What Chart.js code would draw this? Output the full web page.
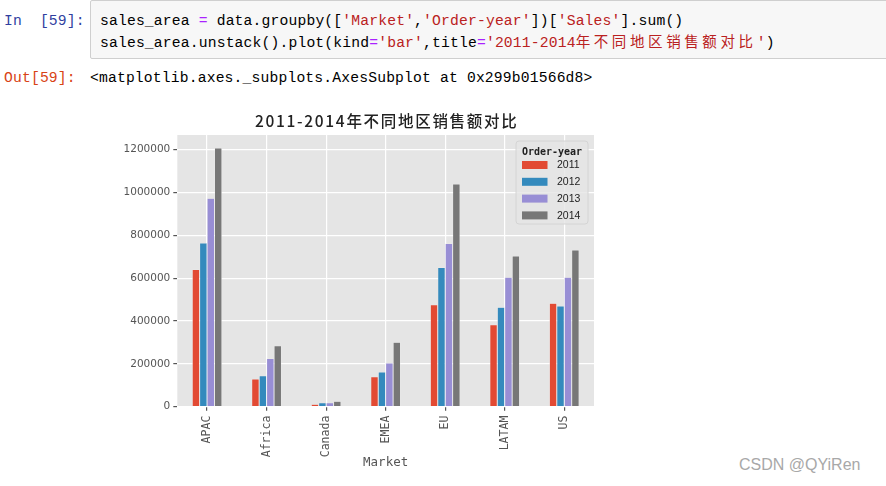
<!DOCTYPE html>
<html>
<head>
<meta charset="utf-8">
<script src="https://cdn.jsdelivr.net/npm/chart.js@4"></script>
<style>
    body { margin: 0; background: #fff; width: 886px; height: 486px; position: relative; overflow: hidden; }
    .mono { font-family: "Liberation Mono", monospace; font-size: 14.7px; letter-spacing: 0.16px; white-space: pre; position: absolute; line-height: 20px; }
    .cjk { font-family: "Noto Sans CJK SC", sans-serif; letter-spacing: 3.6px; font-size: 14.5px; }
    .s { color: #BA2121; }
    .o { color: #AA22FF; }
    #codebox { position: absolute; left: 90px; top: 0px; width: 800px; height: 57px; background: #F7F7F7; border: 1px solid #CFCFCF; border-radius: 2px; }
    #chart { position: absolute; left: 100px; top: 102px; }
    #mark { position: absolute; left: 739px; top: 456px; font-family: "Liberation Sans", sans-serif; font-size: 16px; color: #a8a8a8; }
</style>
</head>
<body>
<div class="mono" style="left:4px; top:11px; color:#303F9F;">In  [59]:</div>
<div id="codebox"></div>
<div class="mono" style="left:100px; top:11px;">sales_area <span class="o">=</span> data.groupby([<span class="s">'Market'</span>,<span class="s">'Order-year'</span>])[<span class="s">'Sales'</span>].sum()</div>
<div class="mono" style="left:100px; top:31px;">sales_area.unstack().plot(kind<span class="o">=</span><span class="s">'bar'</span>,title<span class="o">=</span><span class="s">'2011-2014<span class="cjk">年不同地区销售额对比</span>'</span>)</div>
<div class="mono" style="left:4px; top:68px; color:#D84315;">Out[59]:</div>
<div class="mono" style="left:90px; top:68px;">&lt;matplotlib.axes._subplots.AxesSubplot at 0x299b01566d8&gt;</div>
<canvas id="chart" width="572" height="378"></canvas>
<div id="mark">CSDN @QYiRen</div>
<script>
    // 市場と年ごとの売上
    const markets = ['APAC', 'Africa', 'Canada', 'EMEA', 'EU', 'LATAM', 'US'];
    const years = ['2011', '2012', '2013', '2014'];
    const sales2011 = [641000, 129000, 11000, 140000, 476000, 383000, 483000];
    const sales2012 = [764000, 144000, 19000, 162000, 650000, 464000, 470000];
    const sales2013 = [973000, 225000, 19000, 204000, 762000, 604000, 604000];
    const sales2014 = [1208000, 284000, 25000, 301000, 1040000, 703000, 731000];
    const yTicks = [0, 200000, 400000, 600000, 800000, 1000000, 1200000];
    const colors = ['#E24A33', '#348ABD', '#988ED5', '#777777'];
    const chartTitle = '2011-2014年不同地区销售额对比';

    const series = [sales2011, sales2012, sales2013, sales2014];
    const yMax = Math.max(...series.flat()) * 1.05;

    // 背景（ggplot風）
    const areaBg = {
        id: 'areaBg',
        beforeDraw(chart) {
            const { ctx, chartArea: a } = chart;
            ctx.save();
            ctx.fillStyle = '#E5E5E5';
            ctx.fillRect(a.left, a.top, a.right - a.left, a.bottom - a.top);
            ctx.restore();
        }
    };

    // タイトルはプロット領域の中央に
    const axesTitle = {
        id: 'axesTitle',
        afterDraw(chart) {
            const { ctx, chartArea: a } = chart;
            ctx.save();
            ctx.font = '500 15.5px "Noto Sans CJK SC"';
            ctx.letterSpacing = '1.7px';
            ctx.fillStyle = '#222';
            ctx.textAlign = 'center';
            ctx.textBaseline = 'middle';
            ctx.fillText(chartTitle, (a.left + a.right) / 2 + 1, 19);
            ctx.restore();
        }
    };

    // 凡例をプロット内に描く
    const innerLegend = {
        id: 'innerLegend',
        afterDraw(chart) {
            const { ctx, chartArea: a } = chart;
            const w = 72, h = 83;
            const x = a.right - 6 - w, y = a.top + 6;
            ctx.save();
            ctx.beginPath();
            ctx.roundRect(x, y, w, h, 3);
            ctx.fillStyle = 'rgba(229,229,229,0.8)';
            ctx.fill();
            ctx.strokeStyle = '#d4d4d4';
            ctx.lineWidth = 1;
            ctx.stroke();

            ctx.fillStyle = '#222';
            ctx.font = 'bold 10px "DejaVu Sans Mono"';
            ctx.textAlign = 'center';
            ctx.textBaseline = 'middle';
            ctx.fillText('Order-year', x + w / 2, y + 11);

            ctx.font = '10.5px "Liberation Sans"';
            ctx.textAlign = 'left';
            chart.data.datasets.forEach((ds, i) => {
                const cy = y + 24 + i * 16.8;
                ctx.fillStyle = ds.backgroundColor;
                ctx.fillRect(x + 6, cy - 4, 25.5, 8);
                ctx.fillStyle = '#222';
                ctx.fillText(ds.label, x + 41, cy + 0.5);
            });
            ctx.restore();
        }
    };

    new Chart(document.getElementById('chart'), {
        type: 'bar',
        data: {
            labels: markets,
            datasets: years.map((yr, i) => ({
                label: yr,
                data: series[i],
                backgroundColor: colors[i],
                borderColor: '#EEEEEE',
                borderWidth: 0.5,
                categoryPercentage: 0.5,
                barPercentage: 1.0
            }))
        },
        options: {
            responsive: false,
            devicePixelRatio: 1,
            animation: false,
            layout: { padding: { left: 0, right: 78, top: 33, bottom: 0 } },
            plugins: {
                legend: { display: false },
                tooltip: { enabled: false },
                title: { display: false }
            },
            scales: {
                x: {
                    grid: { color: '#FFFFFF', lineWidth: 1.2, offset: false, tickColor: '#555', tickLength: 4 },
                    border: { display: false },
                    ticks: {
                        color: '#555', autoSkip: false, minRotation: 90, maxRotation: 90, padding: 5,
                        font: { family: '"DejaVu Sans Mono"', size: 11.5 }
                    },
                    title: {
                        display: true, text: 'Market', color: '#555',
                        font: { family: '"DejaVu Sans Mono"', size: 12.5 },
                        padding: { top: 0, bottom: 9.5 }
                    },
                    afterFit: s => { s.height = 73.3; }
                },
                y: {
                    min: 0,
                    max: yMax,
                    grid: { color: '#FFFFFF', lineWidth: 1.2, tickColor: '#555', tickLength: 4 },
                    border: { display: false },
                    ticks: {
                        color: '#555', padding: 3,
                        font: { family: '"DejaVu Sans"', size: 10.5 },
                        callback: v => String(v)
                    },
                    afterBuildTicks: s => { s.ticks = yTicks.map(v => ({ value: v })); },
                    afterFit: s => { s.width = 77.3; }
                }
            }
        },
        plugins: [areaBg, axesTitle, innerLegend]
    });
</script>
</body>
</html>
